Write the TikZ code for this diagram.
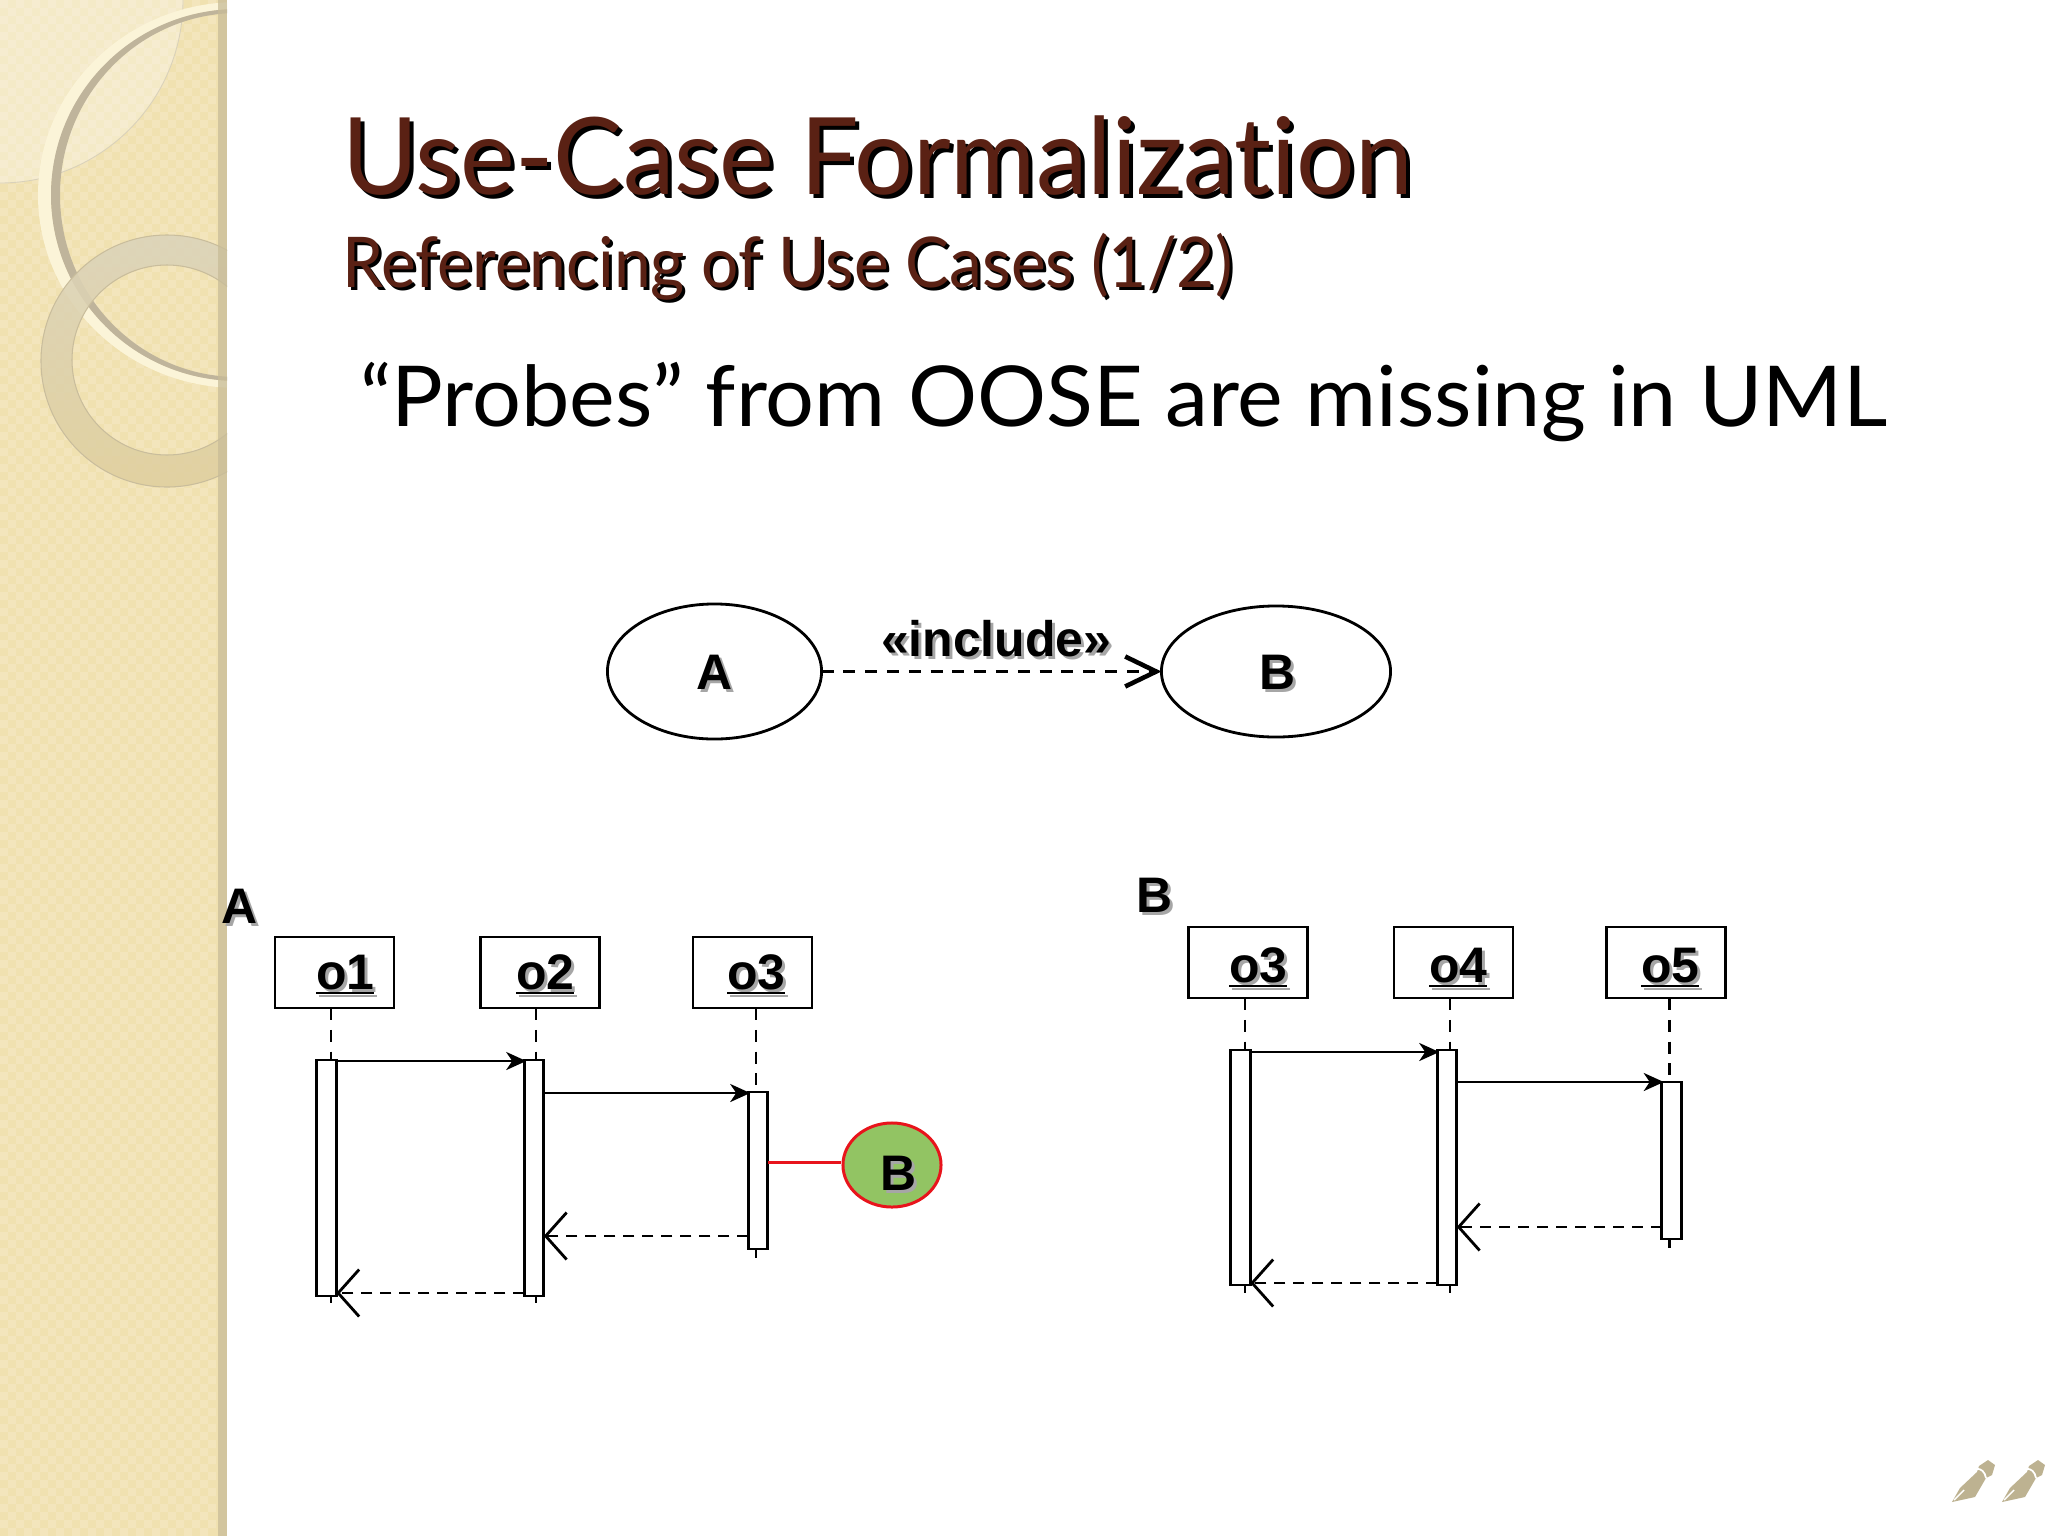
\documentclass[tikz,border=0pt]{standalone}
\usepackage{fontspec}
\usepackage{graphicx}
\usetikzlibrary{shapes.geometric,arrows.meta}
\setmainfont{Liberation Sans}
\newfontfamily\gill[Ligatures=NoCommon]{Lato}
\definecolor{bar}{HTML}{F0E1B0}
\definecolor{barlight}{HTML}{F6EAC6}
\definecolor{strip}{HTML}{C8BC98}
\definecolor{arcdark}{HTML}{BFB49B}
\definecolor{arclight}{HTML}{FBF4D8}
\definecolor{ringedge}{HTML}{C9BD9C}
\definecolor{ringtop}{HTML}{DBD3BA}
\definecolor{ringbot}{HTML}{DFCF9E}
\definecolor{title}{HTML}{5A2114}
\definecolor{nib}{HTML}{BDB291}
\definecolor{usegreen}{HTML}{92C463}
\definecolor{usered}{HTML}{E8141C}
\newcommand\fitw[2]{\resizebox{#1cm}{\height}{#2}}
\newcommand\ulbl[1]{\setbox0\hbox{#1}\rlap{\rule[-.05cm]{\wd0}{.6pt}}\box0}
\newcommand\dlabel[4]{%
  \node[dtext,text=black!35,xshift=.03cm,yshift=-.03cm] (#1s) at (#2,#3) {#4};
  \node[dtext] (#1) at (#2,#3) {#4};}
\tikzset{
  x=0.01cm,y=-0.01cm,
  dtext/.style={anchor=base west,inner sep=0pt,outer sep=0pt,font=\fontsize{14.2pt}{14.2pt}\selectfont\bfseries},
  heading/.style={anchor=base west,inner sep=0pt,outer sep=0pt,text=title},
  objbox/.style={draw=black,line width=.8pt,fill=white,minimum width=1.19cm,minimum height=.71cm,inner sep=0pt,outer sep=0pt},
  act/.style={draw=black,line width=.8pt,fill=white,minimum width=.195cm,inner sep=0pt,outer sep=0pt},
  usecase/.style={ellipse,draw=black,line width=.8pt,fill=white,inner sep=0pt,outer sep=0pt},
  life/.style={black,line width=.8pt,dash pattern=on 3.4pt off 2.8pt},
  msg/.style={black,line width=.8pt,shorten >=-.02cm,-{Stealth[length=.2cm,width=.18cm,inset=.06cm]}},
  ret/.style={black,line width=.8pt,dash pattern=on 3.1pt off 2.3pt,-{Straight Barb[length=.21cm,width=.47cm,line width=.8pt]}},
  incl/.style={black,line width=.8pt,dash pattern=on 3.4pt off 2.8pt,-{Straight Barb[length=.31cm,width=.30cm,line width=1.3pt]}},
}
\begin{document}
\begin{tikzpicture}
\useasboundingbox (0,0) rectangle (2048,1536);
\fill[white] (0,0) rectangle (2048,1536);
% side bar with its faint check
\fill[bar] (0,0) rectangle (227,1536);
\fill[barlight,opacity=.55] foreach \i in {0,16,...,212} { foreach \j in {0,16,...,1520} { (\i,\j) rectangle ++(8,8) } };
\fill[barlight,opacity=.55] foreach \i in {8,24,...,212} { foreach \j in {8,24,...,1528} { (\i,\j) rectangle ++(8,8) } };
\begin{scope}
\clip (0,0) rectangle (227,1536);
% pale quarter disc
\fill[white,opacity=.3] (0,0) -- (183,0) arc[start angle=0,end angle=90,radius=183] -- cycle;
\draw[ringedge!70,line width=.25pt] (183,0) arc[start angle=0,end angle=90,radius=183];
% large arc
\fill[arclight,even odd rule] (238,195) ellipse[x radius=200,y radius=193] (238,195) ellipse[x radius=187,y radius=186];
\fill[arcdark,even odd rule] (238,195) ellipse[x radius=187,y radius=186] (238,195) ellipse[x radius=178,y radius=182];
% small ring
\shade[even odd rule,top color=ringtop,bottom color=ringbot,opacity=.88] (167,361) circle[radius=126] (167,360) circle[radius=95];
\draw[ringedge,line width=.3pt] (167,361) circle[radius=126] (167,360) circle[radius=95];
\end{scope}
\fill[strip,opacity=.75] (218,0) rectangle (227,1536);
% headings
\node[heading,text=black,xshift=.04cm,yshift=-.04cm] (title-s) at (342,194) {\gill\fontsize{30.4pt}{30.4pt}\selectfont\fitw{10.70}{Use-Case Formalization}};
\node[heading] (title-t) at (342,194) {\gill\fontsize{30.4pt}{30.4pt}\selectfont\fitw{10.70}{Use-Case Formalization}};
\node[heading,text=black,xshift=.03cm,yshift=-.03cm] (sub-s) at (342,287) {\gill\fontsize{19.9pt}{19.9pt}\selectfont\fitw{8.90}{Referencing of Use Cases (1/2)}};
\node[heading] (sub-t) at (342,287) {\gill\fontsize{19.9pt}{19.9pt}\selectfont\fitw{8.90}{Referencing of Use Cases (1/2)}};
\node[heading,text=black] (body) at (360,426) {\gill\fontsize{23.9pt}{23.9pt}\selectfont\fitw{15.26}{“Probes” from OOSE are missing in UML}};
% use cases
\node[usecase,minimum width=2.14cm,minimum height=1.35cm] (ucA) at (714.5,671.5) {};
\node[usecase,minimum width=2.29cm,minimum height=1.31cm] (ucB) at (1276,671.5) {};
\draw[incl] (ucA.east) -- (ucB.west);
\dlabel{ucAl}{696}{689}{A}
\dlabel{ucBl}{1259}{689}{B}
\dlabel{incll}{881}{656}{«include»}
% sequence A
\dlabel{seqA}{221}{923}{A}
\node[objbox] (o1) at (334.5,972.5) {};
\node[objbox] (o2) at (540,972.5) {};
\node[objbox] (o3) at (752.5,972.5) {};
\coordinate (e1) at (331,1313);
\coordinate (e2) at (536,1313);
\coordinate (e3) at (756,1258);
\draw[life] (331,1008) -- (e1);
\draw[life] (536,1008) -- (e2);
\draw[life] (756,1008) -- (e3);
\node[act,minimum height=2.36cm] (a1) at (326.5,1178) {};
\node[act,minimum height=2.36cm] (a2) at (534,1178) {};
\node[act,minimum height=1.57cm] (a3) at (758,1170.5) {};
\draw[msg] (a1.east |- 0,1061) -- (a2.west |- 0,1061);
\draw[msg] (a2.east |- 0,1093) -- (a3.west |- 0,1093);
\draw[ret] (a3.west |- 0,1236) -- (a2.east |- 0,1236);
\draw[ret] (a2.west |- 0,1293) -- (a1.east |- 0,1293);
\dlabel{o1l}{316}{989}{\ulbl{o1}}
\dlabel{o2l}{516}{989}{\ulbl{o2}}
\dlabel{o3l}{727}{989}{\ulbl{o3}}
\node[ellipse,draw=usered,line width=.85pt,fill=usegreen,minimum width=.98cm,minimum height=.84cm,inner sep=0pt,outer sep=0pt] (ref) at (892,1165) {};
\draw[usered,line width=.85pt] (a3.east |- 0,1162) -- ([xshift=-.02cm]ref.west |- 0,1162);
\dlabel{refl}{880}{1190}{B}
% sequence B
\dlabel{seqB}{1136}{912}{B}
\node[objbox] (p3) at (1248,962.5) {};
\node[objbox] (p4) at (1453.5,962.5) {};
\node[objbox] (p5) at (1666,962.5) {};
\coordinate (f3) at (1245,1303);
\coordinate (f4) at (1450,1303);
\coordinate (f5) at (1669.5,1248);
\draw[life] (1245,998) -- (f3);
\draw[life] (1450,998) -- (f4);
\draw[life] (1669.5,998) -- (f5);
\node[act,minimum height=2.35cm] (b3) at (1240.5,1167.5) {};
\node[act,minimum height=2.35cm] (b4) at (1447,1167.5) {};
\node[act,minimum height=1.57cm] (b5) at (1671.5,1160.5) {};
\draw[msg] (b3.east |- 0,1052) -- (b4.west |- 0,1052);
\draw[msg] (b4.east |- 0,1082) -- (b5.west |- 0,1082);
\draw[ret] (b5.west |- 0,1227) -- (b4.east |- 0,1227);
\draw[ret] (b4.west |- 0,1283) -- (b3.east |- 0,1283);
\dlabel{p3l}{1229}{982}{\ulbl{o3}}
\dlabel{p4l}{1429}{982}{\ulbl{o4}}
\dlabel{p5l}{1641}{982}{\ulbl{o5}}
% pen nibs
\foreach \dx in {0,50} {
  \begin{scope}[xshift=\dx*.01cm]
    \fill[nib] (1952,1502) -- (1960,1488) -- (1977,1472) -- (1979,1466) -- (1988,1460) -- (1995,1465) -- (1992,1475) -- (1986,1478) -- (1975,1497) -- cycle;
    \draw[white,line width=.5pt] (1976,1469) .. controls (1981,1468) and (1985,1472) .. (1986,1478);
    \draw[white,line width=.4pt] (1954,1500) -- (1964,1490);
  \end{scope}
}
\end{tikzpicture}
\end{document}
